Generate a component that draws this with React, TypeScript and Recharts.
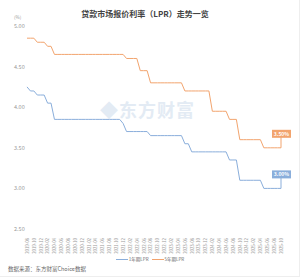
import React from 'react';
import { LineChart, Line, XAxis, YAxis } from 'recharts';

const months = [
  '2019-08', '2019-09', '2019-10', '2019-11', '2019-12',
  '2020-01', '2020-02', '2020-03', '2020-04', '2020-05', '2020-06', '2020-07', '2020-08', '2020-09', '2020-10', '2020-11', '2020-12',
  '2021-01', '2021-02', '2021-03', '2021-04', '2021-05', '2021-06', '2021-07', '2021-08', '2021-09', '2021-10', '2021-11', '2021-12',
  '2022-01', '2022-02', '2022-03', '2022-04', '2022-05', '2022-06', '2022-07', '2022-08', '2022-09', '2022-10', '2022-11', '2022-12',
  '2023-01', '2023-02', '2023-03', '2023-04', '2023-05', '2023-06', '2023-07', '2023-08', '2023-09', '2023-10', '2023-11', '2023-12',
  '2024-01', '2024-02', '2024-03', '2024-04', '2024-05', '2024-06', '2024-07', '2024-08', '2024-09', '2024-10', '2024-11', '2024-12',
  '2025-01', '2025-02', '2025-03', '2025-04', '2025-05', '2025-06', '2025-07', '2025-08', '2025-09', '2025-10',
];

const lpr1y = [
  4.25, 4.2, 4.2, 4.15, 4.15,
  4.15, 4.05, 4.05, 3.85, 3.85, 3.85, 3.85, 3.85, 3.85, 3.85, 3.85, 3.85,
  3.85, 3.85, 3.85, 3.85, 3.85, 3.85, 3.85, 3.85, 3.85, 3.85, 3.85, 3.8,
  3.7, 3.7, 3.7, 3.7, 3.7, 3.7, 3.7, 3.65, 3.65, 3.65, 3.65, 3.65,
  3.65, 3.65, 3.65, 3.65, 3.65, 3.55, 3.55, 3.45, 3.45, 3.45, 3.45, 3.45,
  3.45, 3.45, 3.45, 3.45, 3.45, 3.45, 3.35, 3.35, 3.35, 3.1, 3.1, 3.1,
  3.1, 3.1, 3.1, 3.1, 3.0, 3.0, 3.0, 3.0, 3.0, 3.0,
];

const lpr5y = [
  4.85, 4.85, 4.85, 4.8, 4.8,
  4.8, 4.75, 4.75, 4.65, 4.65, 4.65, 4.65, 4.65, 4.65, 4.65, 4.65, 4.65,
  4.65, 4.65, 4.65, 4.65, 4.65, 4.65, 4.65, 4.65, 4.65, 4.65, 4.65, 4.65,
  4.6, 4.6, 4.6, 4.6, 4.45, 4.45, 4.45, 4.3, 4.3, 4.3, 4.3, 4.3,
  4.3, 4.3, 4.3, 4.3, 4.3, 4.2, 4.2, 4.2, 4.2, 4.2, 4.2, 4.2,
  4.2, 3.95, 3.95, 3.95, 3.95, 3.95, 3.85, 3.85, 3.85, 3.6, 3.6, 3.6,
  3.6, 3.6, 3.6, 3.6, 3.5, 3.5, 3.5, 3.5, 3.5, 3.5,
];

const yTicks = [2.5, 3.0, 3.5, 4.0, 4.5, 5.0];

const data = months.map((m, i) => ({ month: m, y1: lpr1y[i], y5: lpr5y[i] }));

const BLUE = '#8aaedb';
const ORANGE = '#f2a46e';
const FONT = '"Noto Sans CJK SC", "Noto Sans", sans-serif';

const endLabel = (color: string) => (props: any) => {
  const { x, y, index, value } = props;
  if (index !== data.length - 1) return null;
  const top = y - 18;
  return (
    <g>
      <line x1={x} y1={y} x2={x} y2={top + 7} stroke={color} strokeWidth={1} />
      <rect x={x - 9} y={top} width={19} height={8} fill={color} />
      <text x={x + 0.5} y={top + 6} textAnchor="middle" fill="#fff" fontSize={5} fontWeight="bold">
        {value.toFixed(2)}%
      </text>
    </g>
  );
};

const YTick = (props: any) => {
  const { y, payload } = props;
  return (
    <text x={14} y={y + 2} textAnchor="start" fill="#999" fontSize={5.5}>
      {payload.value.toFixed(2)}
    </text>
  );
};

const XTick = (props: any) => {
  const { x, y, payload } = props;
  return (
    <text
      x={0}
      y={0}
      transform={`translate(${x + 1.8},${y + 1}) rotate(-90)`}
      textAnchor="end"
      fill="#999"
      fontSize={4.3}
    >
      {payload.value}
    </text>
  );
};

export default function App() {
  return (
    <div
      style={{
        position: 'fixed',
        left: 0,
        top: 0,
        width: 300,
        height: 277,
        background: '#fff',
        fontFamily: FONT,
        boxSizing: 'border-box',
        borderRight: '1px solid #eee',
        borderBottom: '1px solid #eee',
      }}
    >
      <div style={{ position: 'absolute', top: 8, left: 0, width: 290, textAlign: 'center', fontSize: 8, fontWeight: 'bold', color: '#444' }}>
        贷款市场报价利率（LPR）走势一览
      </div>
      <div style={{ position: 'absolute', top: 15, left: 14, fontSize: 4.5, color: '#999', lineHeight: 1 }}>(%)</div>
      <div
        style={{
          position: 'absolute',
          top: 96,
          left: 100,
          fontSize: 18,
          fontWeight: 'bold',
          color: '#e3ebf4',
          letterSpacing: 1,
        }}
      >
        ◆东方财富
      </div>
      <LineChart
        width={300}
        height={277}
        data={data}
        margin={{ top: 26, right: 19, bottom: 24, left: 0 }}
        style={{ position: 'absolute', left: 0, top: 0, fontFamily: FONT }}
      >
        <YAxis
          domain={[2.5, 5]}
          ticks={yTicks}
          width={27}
          axisLine={false}
          tickLine={false}
          tick={<YTick />}
          interval={0}
        />
        <XAxis
          dataKey="month"
          interval={1}
          height={24}
          axisLine={false}
          tickLine={false}
          tick={<XTick />}
        />
        <Line
          dataKey="y5"
          stroke={ORANGE}
          strokeWidth={1}
          dot={false}
          type="linear"
          isAnimationActive={false}
          label={endLabel(ORANGE)}
        />
        <Line
          dataKey="y1"
          stroke={BLUE}
          strokeWidth={1}
          dot={false}
          type="linear"
          isAnimationActive={false}
          label={endLabel(BLUE)}
        />
      </LineChart>
      <div
        style={{
          position: 'absolute',
          top: 257,
          left: 0,
          width: 300,
          display: 'flex',
          justifyContent: 'center',
          fontSize: 4.5,
          color: '#666',
          lineHeight: 1,
        }}
      >
        <span style={{ display: 'flex', alignItems: 'center', marginRight: 3 }}>
          <span style={{ width: 12, height: 1.5, background: BLUE, marginRight: 1 }} />
          1年期LPR
        </span>
        <span style={{ display: 'flex', alignItems: 'center' }}>
          <span style={{ width: 12, height: 1.5, background: ORANGE, marginRight: 1 }} />
          5年期LPR
        </span>
      </div>
      <div style={{ position: 'absolute', top: 267, left: 8, fontSize: 5.5, color: '#666', lineHeight: 1 }}>
        数据来源：东方财富Choice数据
      </div>
    </div>
  );
}
